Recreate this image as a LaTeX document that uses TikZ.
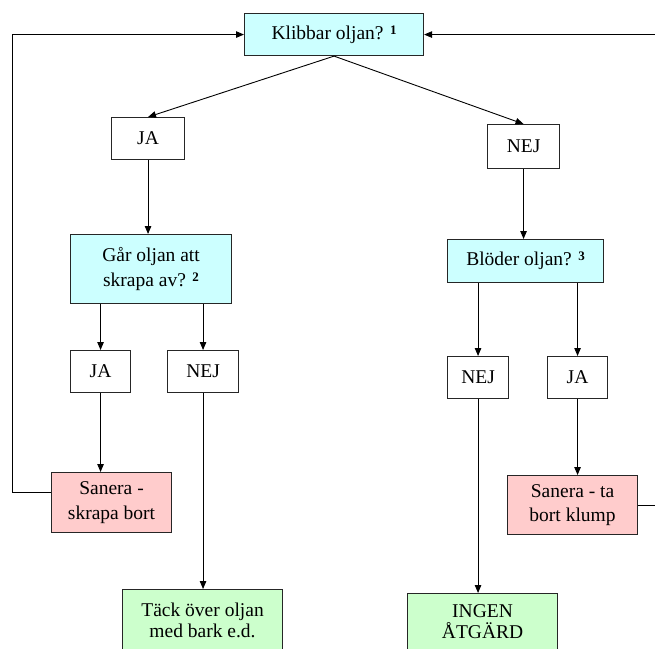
\documentclass[tikz,border=0pt]{standalone}
\usepackage{fontspec}
\setmainfont{Liberation Serif}
\usetikzlibrary{arrows.meta}
\definecolor{qcyan}{HTML}{CCFFFF}
\definecolor{qpink}{HTML}{FFCCCC}
\definecolor{qgreen}{HTML}{CCFFCC}
\newcommand{\fnmark}[1]{\raisebox{5pt}{\fontsize{13}{13}\selectfont\bfseries #1}}
\begin{document}
\begin{tikzpicture}[x=1pt,y=-1pt,
  box/.style={draw=black!85, line width=1.1pt, align=center, font=\fontsize{19.5}{24.5}\selectfont, inner sep=0pt, anchor=north west},
  conn/.style={line width=0.9pt, -{Triangle[length=8pt,width=6.5pt]}}]
\useasboundingbox (0,0) rectangle (655,648);
\clip (0,0) rectangle (655,648);
\fill[white] (0,0) rectangle (655,648);
\node[box, fill=qcyan, minimum width=179pt, minimum height=42pt] (k) at (244,13) {Klibbar oljan? \fnmark{1}};
\node[box, minimum width=73pt, minimum height=42pt] (ja1) at (111,117) {JA};
\node[box, minimum width=72pt, minimum height=44pt] (nej1) at (487,124) {NEJ};
\node[box, fill=qcyan, minimum width=161pt, minimum height=69pt] (gar) at (70,234) {Går oljan att\\skrapa av? \fnmark{2}};
\node[box, minimum width=60pt, minimum height=42pt] (ja2) at (70,350) {JA};
\node[box, minimum width=71pt, minimum height=42pt] (nej2) at (167,350) {NEJ};
\node[box, fill=qcyan, minimum width=156pt, minimum height=43pt] (blod) at (447,239) {Blöder oljan? \fnmark{3}};
\node[box, minimum width=61pt, minimum height=42pt] (nej3) at (447,356) {NEJ};
\node[box, minimum width=60pt, minimum height=42pt] (ja3) at (547,356) {JA};
\node[box, fill=qpink, minimum width=120pt, minimum height=60pt] (san1) at (51,472) {Sanera -\\skrapa bort};
\node[box, fill=qpink, minimum width=130pt, minimum height=59pt] (san2) at (507,475) {Sanera - ta\\bort klump};
\node[box, fill=qgreen, minimum width=160pt, minimum height=62pt, font=\fontsize{19.5}{21}\selectfont] (tack) at (122,589) {Täck över oljan\\med bark e.d.};
\node[box, fill=qgreen, minimum width=150pt, minimum height=57pt, font=\fontsize{19.5}{21}\selectfont] (ingen) at (407,593) {INGEN\\ÅTGÄRD};
\draw[conn] (k.south) -- (ja1.north);
\draw[conn] (k.south) -- (nej1.north);
\draw[conn] (ja1.south) -- (gar.north -| ja1.south);
\draw[conn] (nej1.south) -- (blod.north -| nej1.south);
\draw[conn] (gar.south -| ja2.north) -- (ja2.north);
\draw[conn] (gar.south -| nej2.north) -- (nej2.north);
\draw[conn] (blod.south -| nej3.north) -- (nej3.north);
\draw[conn] (blod.south -| ja3.north) -- (ja3.north);
\draw[conn] (ja2.south) -- (san1.north -| ja2.south);
\draw[conn] (nej2.south) -- (tack.north -| nej2.south);
\draw[conn] (nej3.south) -- (ingen.north -| nej3.south);
\draw[conn] (ja3.south) -- (san2.north -| ja3.south);
\coordinate (l1) at (12,492);
\coordinate (r1) at (658,504);
\draw[conn] (l1 -| san1.west) -- (l1) |- (k.west);
\draw[conn] (san2.east) -- (san2.east -| r1) |- (k.east);
\end{tikzpicture}
\end{document}
